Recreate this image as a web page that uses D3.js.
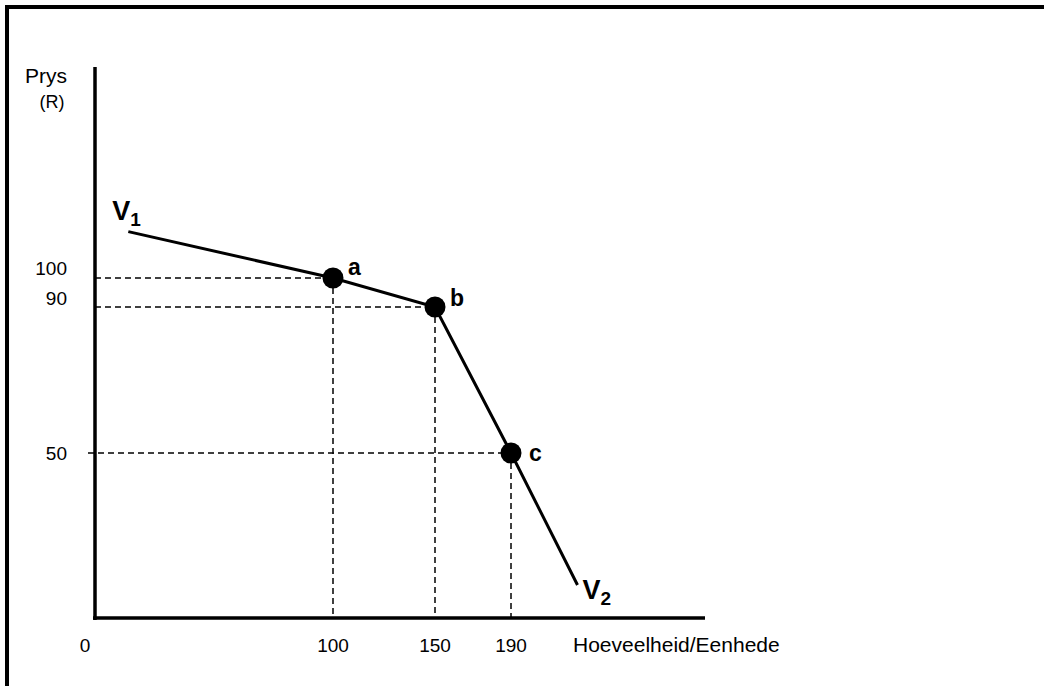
<!DOCTYPE html>
<html>
<head>
<meta charset="utf-8">
<script src="https://cdn.jsdelivr.net/npm/d3@7"></script>
<style>
body { margin: 0; background: #fff; }
text { font-family: "Liberation Sans", Arial, sans-serif; fill: #000; }
</style>
</head>
<body>
<div id="chart"></div>
<script>
// marked quantities / prices on the axes
var qTicks = [0, 100, 150, 190];
var pTicks = [0, 50, 90, 100];

// kinked demand curve V1 -> a -> b -> c -> V2
var curveQ = [14, 100, 150, 190, 225];
var curveP = [116, 100, 90, 50, 10];

// labelled points
var pointNames = ["a", "b", "c"];
var pointQ = [100, 150, 190];
var pointP = [100, 90, 50];

var width = 1044, height = 686;

var svg = d3.select("#chart").append("svg")
    .attr("width", width).attr("height", height)

// frame (only top and left edges show in the picture)
svg.append("rect").attr("x", 7).attr("y", 7)
    .attr("width", 1100).attr("height", 800)
    .attr("fill", "none").attr("stroke", "#000").attr("stroke-width", 4)

// the sketch is not drawn to scale, so piecewise scales
var x = d3.scaleLinear().domain(qTicks).range([95, 333, 435, 511])
var y = d3.scaleLinear().domain(pTicks).range([618, 453, 307, 278])

// dashed guide lines
pointQ.forEach(function(q, i){
    svg.append("line")
        .attr("x1", i == 2 ? 88 : x(0)).attr("x2", x(q))
        .attr("y1", y(pointP[i])).attr("y2", y(pointP[i]))
        .attr("stroke", "#000").attr("stroke-width", 1.5).attr("stroke-dasharray", "6,4")
    svg.append("line")
        .attr("x1", x(q)).attr("x2", x(q))
        .attr("y1", y(pointP[i])).attr("y2", y(0))
        .attr("stroke", "#000").attr("stroke-width", 1.5).attr("stroke-dasharray", "6,4")
})

// axes
svg.append("line").attr("x1", 95).attr("x2", 95).attr("y1", 67).attr("y2", 620)
    .attr("stroke", "#000").attr("stroke-width", 3.5)
svg.append("line").attr("x1", 93).attr("x2", 705).attr("y1", 618).attr("y2", 618)
    .attr("stroke", "#000").attr("stroke-width", 3.5)

// curve
var line = d3.line().x(function(d){ return x(d[0]) }).y(function(d){ return y(d[1]) })
svg.append("path").datum(d3.zip(curveQ, curveP))
    .attr("d", line).attr("fill", "none")
    .attr("stroke", "#000").attr("stroke-width", 3)

svg.selectAll(".dot").data(pointQ).enter().append("circle")
    .attr("cx", function(d){ return x(d) })
    .attr("cy", function(d, i){ return y(pointP[i]) })
    .attr("r", 10.5).attr("fill", "#000")

svg.selectAll(".plabel").data(pointNames).enter().append("text")
    .attr("x", function(d, i){ return x(pointQ[i]) + (i == 2 ? 18 : 15) })
    .attr("y", function(d, i){ return y(pointP[i]) - (i == 0 ? 11 : (i == 1 ? 9 : 0)) })
    .attr("dy", "0.35em")
    .style("font-size", "23px").style("font-weight", "bold")
    .text(function(d){ return d })

// curve end labels
function vLabel(px, py, sub){
    var t = svg.append("text").attr("x", px).attr("y", py)
        .style("font-size", "27px").style("font-weight", "bold")
    t.append("tspan").text("V")
    t.append("tspan").attr("dy", 6).style("font-size", "19px").text(sub)
}
vLabel(x(curveQ[0]) - 16, y(curveP[0]) - 12, "1")
vLabel(x(curveQ[4]) + 5, y(curveP[4]) + 14, "2")

// tick labels
svg.selectAll(".ylab").data(pTicks.slice(1)).enter().append("text")
    .attr("x", 67).attr("y", function(d){ return y(d) - (d == 100 ? 10 : (d == 90 ? 9 : 0)) })
    .attr("dy", "0.35em").attr("text-anchor", "end")
    .style("font-size", "19px")
    .text(function(d){ return d })

svg.selectAll(".xlab").data(qTicks).enter().append("text")
    .attr("x", function(d){ return d == 0 ? 85 : x(d) })
    .attr("y", 645).attr("dy", "0.35em").attr("text-anchor", "middle")
    .style("font-size", "19px")
    .text(function(d){ return d })

svg.append("text").attr("x", 573).attr("y", 645).attr("dy", "0.35em")
    .style("font-size", "21px").text("Hoeveelheid/Eenhede")

svg.append("text").attr("x", 46).attr("y", 76).attr("dy", "0.35em")
    .attr("text-anchor", "middle").style("font-size", "21px").text("Prys")
svg.append("text").attr("x", 52).attr("y", 102).attr("dy", "0.35em")
    .attr("text-anchor", "middle").style("font-size", "18px").text("(R)")
</script>
</body>
</html>
